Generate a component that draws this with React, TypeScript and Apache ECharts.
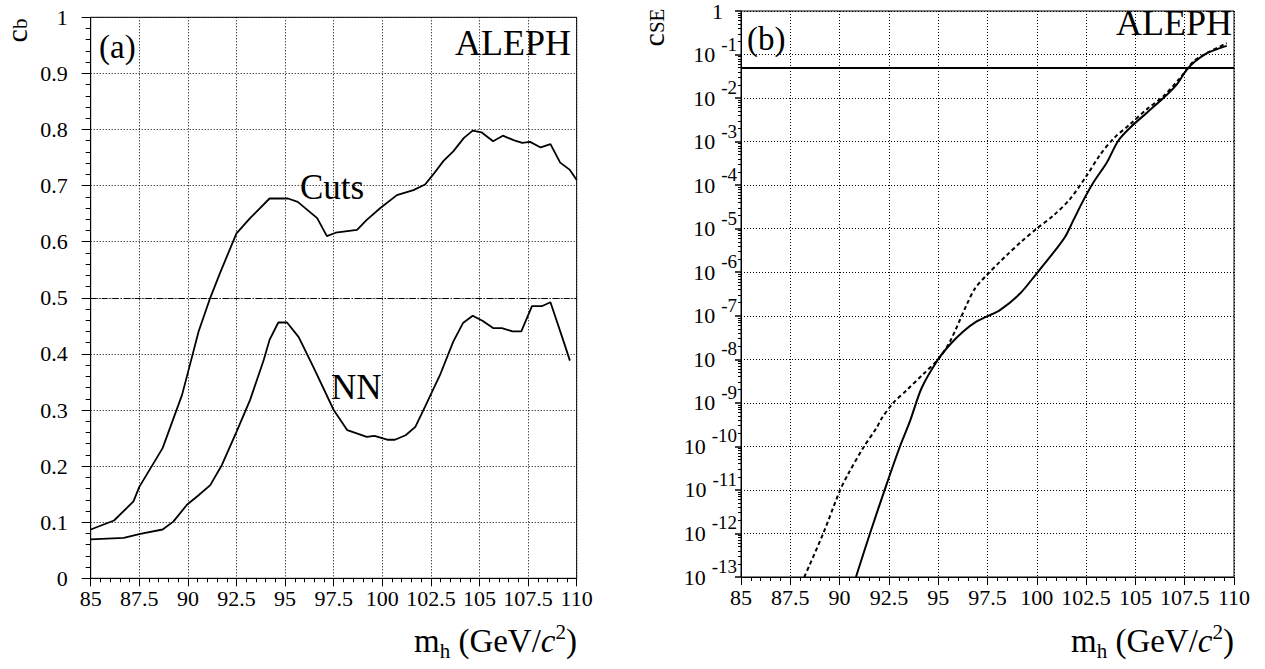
import React, { useEffect, useRef } from "react";
import * as echarts from "echarts";

// ---- Panel (a): c_b vs m_h ----
const cutsMass = [85, 86.2, 87.2, 87.5, 88.7, 89.7, 90.1, 90.55, 91.15, 91.65, 92.5, 93.2, 94.2, 95.15, 95.65, 96.65, 97.15, 97.6, 98.7, 99.2, 99.9, 100.75, 101.6, 102.2, 102.6, 103.15, 103.65, 104.2, 104.65, 105.1, 105.7, 106.2, 106.75, 107.2, 107.6, 108.15, 108.65, 109.15, 109.65, 110];
const cutsCb = [0.087, 0.103, 0.137, 0.163, 0.232, 0.327, 0.38, 0.44, 0.5, 0.544, 0.615, 0.642, 0.677, 0.677, 0.671, 0.642, 0.61, 0.616, 0.621, 0.639, 0.66, 0.683, 0.692, 0.702, 0.719, 0.744, 0.761, 0.785, 0.798, 0.795, 0.779, 0.789, 0.781, 0.776, 0.778, 0.768, 0.774, 0.741, 0.728, 0.71];

const nnMass = [85, 86.7, 87.55, 88.7, 89.25, 89.95, 90.55, 91.15, 91.75, 92.5, 93.2, 93.9, 94.2, 94.65, 95.1, 95.7, 96.45, 97.5, 98.2, 99.2, 99.6, 100.25, 100.65, 101.2, 101.7, 102.2, 103.0, 103.65, 104.15, 104.65, 105.15, 105.7, 106.15, 106.7, 107.15, 107.7, 108.2, 108.65, 109.3, 109.65];
const nnCb = [0.0695, 0.072, 0.079, 0.087, 0.101, 0.131, 0.148, 0.166, 0.202, 0.261, 0.318, 0.389, 0.425, 0.456, 0.456, 0.43, 0.377, 0.3, 0.264, 0.252, 0.254, 0.247, 0.247, 0.255, 0.27, 0.306, 0.365, 0.422, 0.455, 0.468, 0.459, 0.446, 0.446, 0.44, 0.44, 0.485, 0.485, 0.492, 0.425, 0.388];

const cbReference = 0.5;

// ---- Panel (b): c_SE vs m_h (log scale) ----
const solidMass = [90.83, 91.54, 92.39, 93.07, 93.57, 94.16, 95.0, 95.6, 96.27, 96.95, 97.45, 98.13, 99.15, 99.99, 100.67, 101.43, 101.85, 102.36, 102.87, 103.55, 104.13, 104.73, 105.57, 106.42, 107.09, 107.6, 108.02, 108.61, 109.12, 109.63];
const solidCse = [1e-13, 1e-12, 1.38e-11, 1.02e-10, 3.8e-10, 2.19e-9, 1e-8, 2.19e-8, 4.37e-8, 7.41e-8, 9.55e-8, 1.35e-7, 3.24e-7, 9.33e-7, 2.24e-6, 6.46e-6, 1.55e-5, 4.47e-5, 1.15e-4, 3.31e-4, 1.05e-3, 2.09e-3, 4.57e-3, 1e-2, 2.04e-2, 4.47e-2, 6.92e-2, 1.07e-1, 1.32e-1, 1.58e-1];

const dashedMass = [88.21, 89.17, 90.02, 90.44, 91.2, 91.88, 92.13, 92.72, 93.4, 94.24, 95.0, 95.6, 96.44, 96.87, 97.45, 98.13, 98.47, 99.23, 99.99, 100.84, 101.68, 102.53, 103.2, 103.89, 104.73, 105.57, 106.42, 107.26, 107.94, 108.61, 109.63];
const dashedCse = [1e-13, 1e-12, 9.77e-12, 2.34e-11, 9.33e-11, 2.69e-10, 4.37e-10, 1e-9, 1.95e-9, 4.57e-9, 1e-8, 2.57e-8, 1.78e-7, 4.27e-7, 8.51e-7, 1.74e-6, 2.45e-6, 5.13e-6, 1e-5, 2.0e-5, 4.79e-5, 1.66e-4, 4.9e-4, 1.17e-3, 2.51e-3, 5.5e-3, 1.1e-2, 2.88e-2, 6.92e-2, 1.07e-1, 1.82e-1];

const cseReference = 0.05;

const xTicksMin = 85;
const xTicksMax = 110;
const xTickStep = 2.5;

const FONT = "Liberation Serif";

function pairs(xs: number[], ys: number[]) {
  return xs.map((x, i) => [x, ys[i]]);
}

export default function App() {
  const ref = useRef<HTMLDivElement>(null);

  useEffect(() => {
    if (!ref.current) return;
    const chart = echarts.init(ref.current, undefined, { renderer: "svg" });

    const xAxisBase = (gridIndex: number) => ({
      gridIndex,
      type: "value",
      min: xTicksMin,
      max: xTicksMax,
      interval: xTickStep,
      axisLine: { show: true, onZero: false, lineStyle: { color: "#000", width: 1 } },
      axisTick: { show: true, length: 8, lineStyle: { color: "#000", width: 1 } },
      minorTick: { show: true, splitNumber: 5, length: 4, lineStyle: { color: "#000", width: 1 } },
      axisLabel: {
        color: "#000",
        fontSize: 22,
        fontFamily: FONT,
        margin: 9,
        showMinLabel: true,
        showMaxLabel: true,
        formatter: (v: number) => String(v),
      },
      splitLine: { show: true, lineStyle: { color: "#000", width: 1, type: [1, 2] } },
    });

    const subTitleRich = {
      a: { fontSize: 33, fontFamily: FONT, lineHeight: 40, color: "#000" },
      i: { fontSize: 33, fontFamily: FONT, fontStyle: "italic", lineHeight: 40, color: "#000" },
      s: { fontSize: 21, fontFamily: FONT, lineHeight: 12, verticalAlign: "bottom", color: "#000" },
      p: { fontSize: 21, fontFamily: FONT, lineHeight: 10, verticalAlign: "top", color: "#000" },
    };
    const yTitleRich = {
      c: { fontSize: 30, fontFamily: FONT, lineHeight: 28, color: "#000" },
      s: { fontSize: 21, fontFamily: FONT, lineHeight: 2, verticalAlign: "bottom", color: "#000" },
    };

    const xTitle = "{a|m}{s|h}{a| (GeV/}{i|c}{p|2}{a|)}";

    const option: any = {
      animation: false,
      backgroundColor: "#fff",
      textStyle: { fontFamily: FONT, color: "#000" },
      grid: [
        { left: 90.7, top: 17.3, width: 486, height: 561, show: true, borderColor: "#000", borderWidth: 1 },
        { left: 741, top: 7.6, width: 493, height: 569.4, show: true, borderColor: "#000", borderWidth: 1 },
      ],
      xAxis: [xAxisBase(0), xAxisBase(1)],
      yAxis: [
        {
          gridIndex: 0,
          type: "value",
          min: 0,
          max: 1,
          interval: 0.1,
          axisLine: { show: true, onZero: false, lineStyle: { color: "#000", width: 1 } },
          axisTick: { show: true, length: 9, lineStyle: { color: "#000", width: 1 } },
          minorTick: { show: true, splitNumber: 5, length: 5, lineStyle: { color: "#000", width: 1 } },
          axisLabel: {
            color: "#000",
            fontSize: 22,
            fontFamily: FONT,
            margin: 23,
            showMinLabel: true,
            showMaxLabel: true,
            formatter: (v: number) => String(Math.round(v * 10) / 10),
          },
          splitLine: { show: true, lineStyle: { color: "#000", width: 1, type: [1, 2] } },
        },
        {
          gridIndex: 1,
          type: "log",
          logBase: 10,
          min: 1e-13,
          max: 1,
          interval: 1,
          axisLine: { show: true, onZero: false, lineStyle: { color: "#000", width: 1 } },
          axisTick: { show: true, length: 6, lineStyle: { color: "#000", width: 1.5 } },
          minorTick: { show: true, splitNumber: 9, length: 3, lineStyle: { color: "#000", width: 1 } },
          axisLabel: {
            color: "#000",
            fontFamily: FONT,
            fontSize: 22,
            margin: 4,
            showMinLabel: true,
            showMaxLabel: true,
            formatter: (v: number) => {
              const e = Math.round(Math.log10(v));
              if (e === 0) return "{one|1}";
              return "{b|10}{e|" + e + "}";
            },
            rich: {
              one: { fontSize: 22, fontFamily: FONT, lineHeight: 40, color: "#000", padding: [0, 14, 0, 0] },
              b: { fontSize: 22, fontFamily: FONT, lineHeight: 40, color: "#000" },
              e: { fontSize: 19, fontFamily: FONT, lineHeight: 10, verticalAlign: "top", color: "#000", padding: [0, 0, 0, 6] },
            },
          },
          splitLine: { show: true, lineStyle: { color: "#000", width: 1, type: [1, 2] } },
        },
      ],
      series: [
        {
          name: "Cuts",
          type: "line",
          xAxisIndex: 0,
          yAxisIndex: 0,
          data: pairs(cutsMass, cutsCb),
          showSymbol: false,
          lineStyle: { color: "#000", width: 1.8 },
          markLine: {
            silent: true,
            symbol: "none",
            label: { show: false },
            lineStyle: { color: "#000", width: 1, type: [6, 2, 1, 2] },
            data: [{ yAxis: cbReference }],
          },
        },
        {
          name: "NN",
          type: "line",
          xAxisIndex: 0,
          yAxisIndex: 0,
          data: pairs(nnMass, nnCb),
          showSymbol: false,
          lineStyle: { color: "#000", width: 1.8 },
        },
        {
          name: "solid",
          type: "line",
          xAxisIndex: 1,
          yAxisIndex: 1,
          data: pairs(solidMass, solidCse),
          showSymbol: false,
          smooth: 0.3,
          lineStyle: { color: "#000", width: 2 },
          markLine: {
            silent: true,
            symbol: "none",
            label: { show: false },
            lineStyle: { color: "#000", width: 2, type: "solid" },
            data: [{ yAxis: cseReference }],
          },
        },
        {
          name: "dashed",
          type: "line",
          xAxisIndex: 1,
          yAxisIndex: 1,
          data: pairs(dashedMass, dashedCse),
          showSymbol: false,
          smooth: 0.3,
          lineStyle: { color: "#000", width: 2, type: [4, 3] },
        },
      ],
      graphic: [
        { type: "text", x: 16, y: 30.5, rotation: Math.PI / 2, style: { text: "{c|c}{s|b}", rich: yTitleRich, align: "center", verticalAlign: "middle" } },
        { type: "text", x: 653, y: 27.5, rotation: Math.PI / 2, style: { text: "{c|c}{s|SE}", rich: yTitleRich, align: "center", verticalAlign: "middle" } },
        { type: "text", x: 577, y: 641, style: { text: xTitle, rich: subTitleRich, align: "right", verticalAlign: "middle" } },
        { type: "text", x: 1234, y: 641, style: { text: xTitle, rich: subTitleRich, align: "right", verticalAlign: "middle" } },
        { type: "text", x: 99, y: 47, style: { text: "(a)", fontSize: 33, fontFamily: FONT, fill: "#000", align: "left", verticalAlign: "middle" } },
        { type: "text", x: 747, y: 39, style: { text: "(b)", fontSize: 33, fontFamily: FONT, fill: "#000", align: "left", verticalAlign: "middle" } },
        { type: "text", x: 571, y: 43, style: { text: "ALEPH", fontSize: 36, fontFamily: FONT, fill: "#000", align: "right", verticalAlign: "middle" } },
        { type: "text", x: 1232, y: 23, style: { text: "ALEPH", fontSize: 36, fontFamily: FONT, fill: "#000", align: "right", verticalAlign: "middle" } },
        { type: "text", x: 300, y: 187, style: { text: "Cuts", fontSize: 35, fontFamily: FONT, fill: "#000", align: "left", verticalAlign: "middle" } },
        { type: "text", x: 331, y: 387, style: { text: "NN", fontSize: 35, fontFamily: FONT, fill: "#000", align: "left", verticalAlign: "middle" } },
      ],
    };

    chart.setOption(option);
    return () => chart.dispose();
  }, []);

  return (
    <div
      ref={ref}
      style={{ position: "absolute", left: 0, top: 0, width: 1265, height: 669, background: "#fff" }}
    />
  );
}
